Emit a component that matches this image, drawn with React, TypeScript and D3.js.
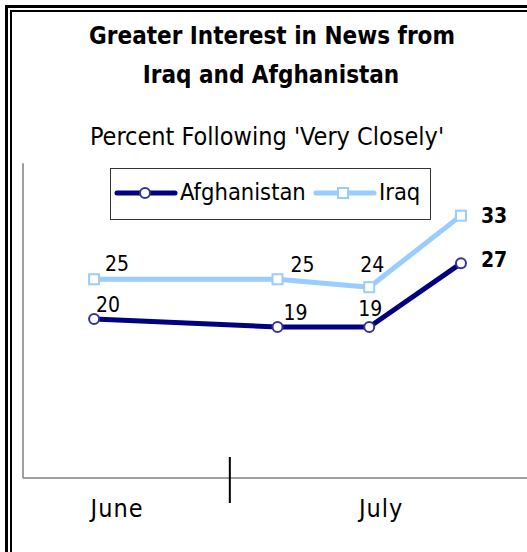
import { useEffect, useRef } from 'react'
import * as d3 from 'd3'

// poll slots along the x axis (June poll, then three July polls)
const slots = [0, 2, 3, 4]
const afghanistan = [20, 19, 19, 27]
const iraq = [25, 25, 24, 33]
const months = ['June', 'July']
const monthSlots = [0.25, 3.13]
const dividerSlot = 1.48

// label offsets [dx, dy] relative to each point
const iraqLabelOffsets = [[11, -8], [13, -7], [-9, -15], [20, 7]]
const afghanLabelOffsets = [[2, -7], [6, -7], [-11, -11], [20, 4]]

const W = 527
const H = 552

export default function App() {
  const svgRef = useRef<SVGSVGElement>(null)

  useEffect(() => {
    if (!svgRef.current) return
    const svg = d3.select(svgRef.current)
    svg.selectAll('*').remove()

    const font = "'DejaVu Sans Condensed', 'DejaVu Sans', sans-serif"
    const left = 23
    const right = W
    const top = 160
    const bottom = 478

    const x = d3.scaleLinear().domain([-0.775, 4.72]).range([left, right])
    const y = d3.scaleLinear().domain([0, 40]).range([bottom, top])

    svg.append('rect').attr('width', W).attr('height', H).attr('fill', '#fff')

    // double frame, clipped by the picture on right and bottom
    svg.append('rect')
      .attr('x', 6.5).attr('y', 6.5).attr('width', W + 20).attr('height', H + 20)
      .attr('fill', 'none').attr('stroke', '#000').attr('stroke-width', 3)
    svg.append('rect')
      .attr('x', 11).attr('y', 11).attr('width', W + 20).attr('height', H + 20)
      .attr('fill', 'none').attr('stroke', '#000').attr('stroke-width', 2)

    // titles
    const titles = [
      { t: 'Greater Interest in News from', x: 272, y: 44, bold: true, size: 24 },
      { t: 'Iraq and Afghanistan', x: 271, y: 83, bold: true, size: 24 },
      { t: "Percent Following 'Very Closely'", x: 267, y: 145, bold: false, size: 25 },
    ]
    svg.selectAll('text.title')
      .data(titles)
      .enter()
      .append('text')
      .attr('class', 'title')
      .attr('x', d => d.x)
      .attr('y', d => d.y)
      .attr('text-anchor', 'middle')
      .attr('font-family', font)
      .attr('font-size', d => d.size)
      .attr('font-weight', d => (d.bold ? 'bold' : 'normal'))
      .attr('fill', '#000')
      .text(d => d.t)

    // axes
    svg.append('line')
      .attr('x1', left).attr('x2', left).attr('y1', y(39.6)).attr('y2', bottom)
      .attr('stroke', '#808080').attr('stroke-width', 1.5)
    svg.append('line')
      .attr('x1', left).attr('x2', right).attr('y1', bottom).attr('y2', bottom)
      .attr('stroke', '#808080').attr('stroke-width', 1.5)
    svg.append('line')
      .attr('x1', x(dividerSlot)).attr('x2', x(dividerSlot))
      .attr('y1', bottom - 21).attr('y2', bottom + 25)
      .attr('stroke', '#000').attr('stroke-width', 2)

    svg.selectAll('text.month')
      .data(months)
      .enter()
      .append('text')
      .attr('class', 'month')
      .attr('x', (_, i) => x(monthSlots[i]))
      .attr('y', 517)
      .attr('text-anchor', 'middle')
      .attr('font-family', font)
      .attr('font-size', 25)
      .attr('letter-spacing', 1)
      .text(d => d)

    const line = d3.line<number>()
      .x((_, i) => x(slots[i]))
      .y(d => y(d))

    const series = [
      { name: 'Iraq', values: iraq, color: '#99ccff', marker: '#99ccff', offsets: iraqLabelOffsets },
      { name: 'Afghanistan', values: afghanistan, color: '#000080', marker: '#333399', offsets: afghanLabelOffsets },
    ]

    series.forEach(s => {
      svg.append('path')
        .datum(s.values)
        .attr('fill', 'none')
        .attr('stroke', s.color)
        .attr('stroke-width', 5)
        .attr('stroke-linejoin', 'round')
        .attr('d', line)

      if (s.name === 'Iraq') {
        svg.selectAll('rect.iraq-pt')
          .data(s.values)
          .enter()
          .append('rect')
          .attr('class', 'iraq-pt')
          .attr('x', (_, i) => x(slots[i]) - 5)
          .attr('y', d => y(d) - 5)
          .attr('width', 10).attr('height', 10)
          .attr('fill', '#fff').attr('stroke', s.marker).attr('stroke-width', 2)
      } else {
        svg.selectAll('circle.afg-pt')
          .data(s.values)
          .enter()
          .append('circle')
          .attr('class', 'afg-pt')
          .attr('cx', (_, i) => x(slots[i]))
          .attr('cy', d => y(d))
          .attr('r', 5)
          .attr('fill', '#fff').attr('stroke', s.marker).attr('stroke-width', 2)
      }

      svg.selectAll(`text.lab-${s.name}`)
        .data(s.values)
        .enter()
        .append('text')
        .attr('class', `lab-${s.name}`)
        .attr('x', (_, i) => x(slots[i]) + s.offsets[i][0])
        .attr('y', (d, i) => y(d) + s.offsets[i][1])
        .attr('font-family', font)
        .attr('font-size', 21)
        .attr('font-weight', (_, i) => (i === s.values.length - 1 ? 'bold' : 'normal'))
        .text(d => d)
    })

    // legend
    const lg = svg.append('g')
    lg.append('rect')
      .attr('x', 110.5).attr('y', 168.5).attr('width', 320).attr('height', 51)
      .attr('fill', '#fff').attr('stroke', '#333').attr('stroke-width', 1)
    const legendItems = [
      { name: 'Afghanistan', color: '#000080', marker: '#333399', x0: 117, circle: true },
      { name: 'Iraq', color: '#99ccff', marker: '#99ccff', x0: 316, circle: false },
    ]
    legendItems.forEach(it => {
      lg.append('line')
        .attr('x1', it.x0).attr('x2', it.x0 + 58).attr('y1', 193).attr('y2', 193)
        .attr('stroke', it.color).attr('stroke-width', 5).attr('stroke-linecap', 'round')
      if (it.circle) {
        lg.append('circle').attr('cx', it.x0 + 28).attr('cy', 193).attr('r', 5)
          .attr('fill', '#fff').attr('stroke', it.marker).attr('stroke-width', 2)
      } else {
        lg.append('rect').attr('x', it.x0 + 22).attr('y', 188).attr('width', 10).attr('height', 10)
          .attr('fill', '#fff').attr('stroke', it.marker).attr('stroke-width', 2)
      }
      lg.append('text')
        .attr('x', it.x0 + 63).attr('y', 200)
        .attr('font-family', font).attr('font-size', 23.5)
        .text(it.name)
    })
  }, [])

  return (
    <svg
      ref={svgRef}
      width={W}
      height={H}
      style={{ position: 'absolute', left: 0, top: 0 }}
    />
  )
}
